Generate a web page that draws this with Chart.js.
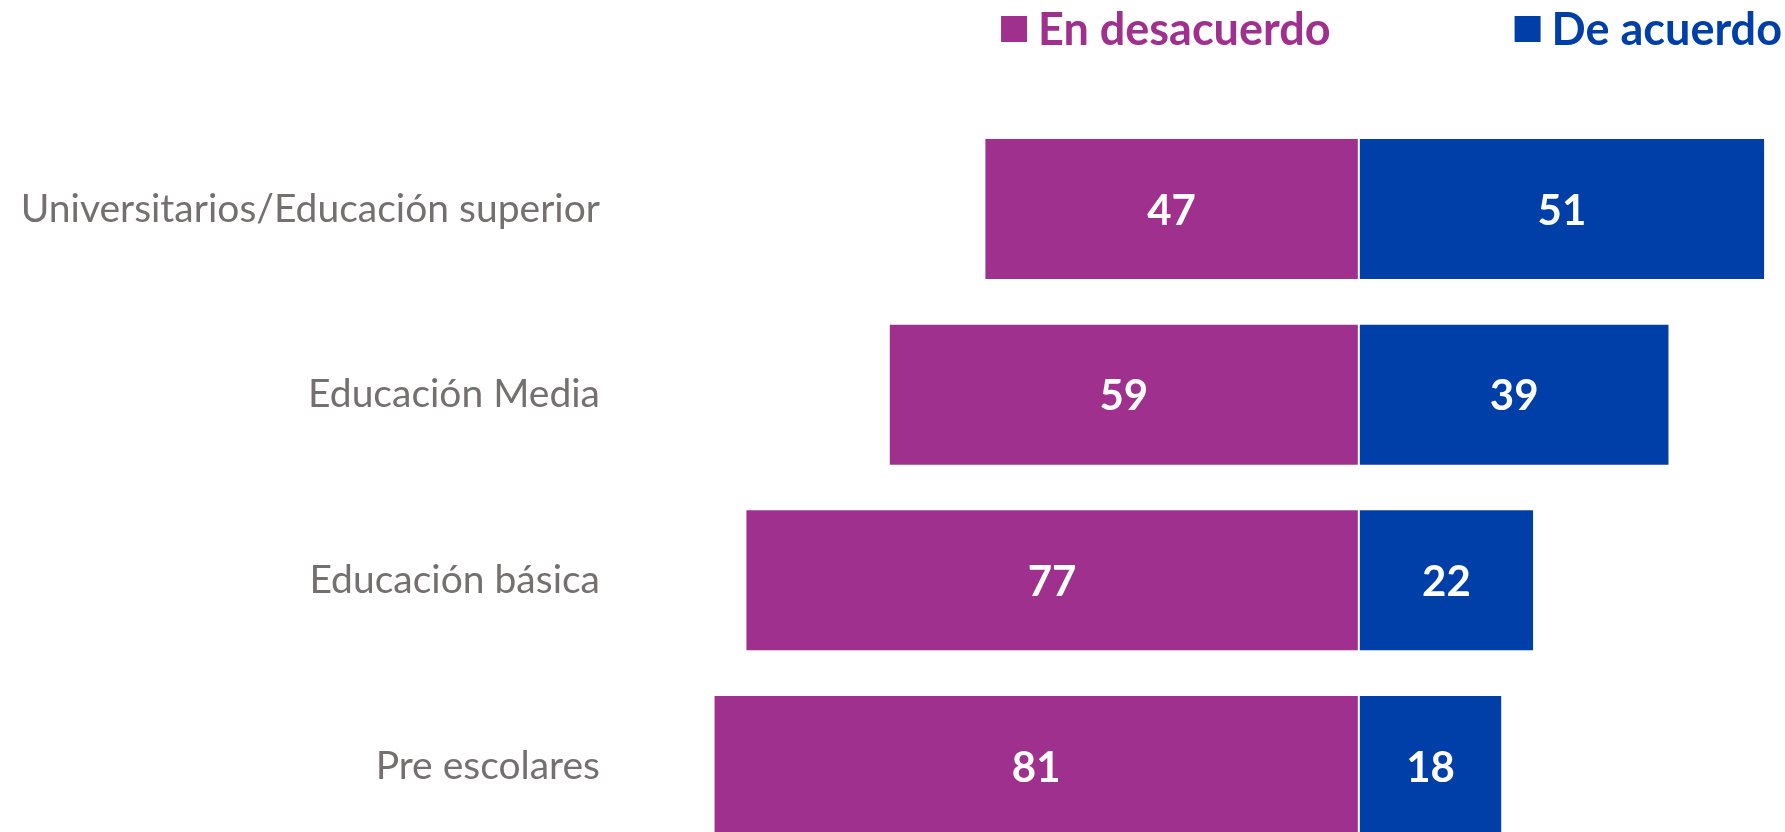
<!DOCTYPE html>
<html>
<head>
<meta charset="utf-8">
<script src="https://cdn.jsdelivr.net/npm/chart.js@4"></script>
<style>
  html, body { margin: 0; padding: 0; overflow: hidden; background: #fff; }
  #wrap { width: 1785px; height: 832px; }
</style>
</head>
<body>
<div id="wrap"><canvas id="myChart" width="1785" height="832"></canvas></div>
<script>
// chart data
const categories = ['Universitarios/Educación superior', 'Educación Media', 'Educación básica', 'Pre escolares'];
const seriesNames = ['En desacuerdo', 'De acuerdo'];
const desacuerdo = [47, 59, 77, 81];
const deAcuerdo = [51, 39, 22, 18];

const PURPLE = '#A0308E';
const BLUE = '#003FA8';

// values in the bars, white and centred
const barLabels = {
  id: 'barLabels',
  afterDatasetsDraw(chart) {
    const ctx = chart.ctx;
    ctx.save();
    ctx.font = 'bold 42px Lato';
    ctx.fillStyle = '#fff';
    ctx.textAlign = 'center';
    ctx.textBaseline = 'middle';
    chart.data.datasets.forEach((ds, i) => {
      chart.getDatasetMeta(i).data.forEach((bar, j) => {
        const x = (bar.x + bar.base) / 2;
        ctx.fillText(Math.abs(ds.data[j]), x, bar.y + 2);
      });
    });
    ctx.restore();
  }
};

// legend row in the top right, text in the series colour
const topLegend = {
  id: 'topLegend',
  afterDraw(chart) {
    const ctx = chart.ctx;
    const box = 26, gapText = 11, gapItem = 184, y = 29;
    ctx.save();
    ctx.font = 'bold 45px Lato';
    ctx.textBaseline = 'middle';
    ctx.textAlign = 'left';
    let right = 1782;
    const items = chart.data.datasets.slice().reverse();
    items.forEach(ds => {
      const w = ctx.measureText(ds.label).width;
      const tx = right - w;
      const bx = tx - gapText - box;
      ctx.fillStyle = ds.backgroundColor;
      ctx.fillRect(bx, y - box / 2, box, box);
      ctx.fillText(ds.label, tx, y + 1);
      right = bx - gapItem;
    });
    ctx.restore();
  }
};

const chart = new Chart(document.getElementById('myChart'), {
  type: 'bar',
  data: {
    labels: categories,
    datasets: [
      {
        label: seriesNames[0],
        data: desacuerdo.map(v => -v),
        backgroundColor: PURPLE,
        borderColor: '#fff',
        borderWidth: 1,
        borderSkipped: false,
        clip: false
      },
      {
        label: seriesNames[1],
        data: deAcuerdo,
        backgroundColor: BLUE,
        borderColor: '#fff',
        borderWidth: 1,
        borderSkipped: false,
        clip: false
      }
    ]
  },
  options: {
    indexAxis: 'y',
    responsive: false,
    animation: false,
    devicePixelRatio: 1,
    categoryPercentage: 1,
    barPercentage: 0.765,
    layout: { padding: { top: 209, right: 0, bottom: 66, left: 0 } },
    plugins: {
      legend: { display: false },
      tooltip: { enabled: false }
    },
    scales: {
      x: {
        stacked: true,
        display: false,
        min: -94,
        max: 53.5
      },
      y: {
        stacked: true,
        offset: false,
        grid: { display: false, drawTicks: false, offset: false },
        border: { display: false },
        ticks: {
          color: '#757070',
          font: { family: 'Lato', size: 39 },
          padding: 10
        },
        afterFit(scale) { scale.width = 610; }
      }
    }
  },
  plugins: [barLabels, topLegend]
});
</script>
</body>
</html>
